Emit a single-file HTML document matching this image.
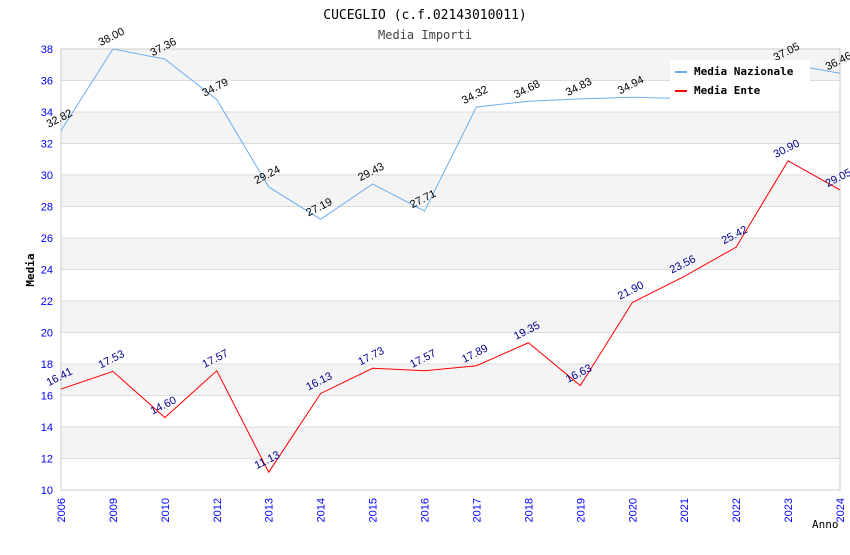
<!DOCTYPE html>
<html><head><meta charset="utf-8"><style>
body{margin:0;background:#fff}
svg text{font-family:"Liberation Sans",sans-serif}
.mono{font-family:"DejaVu Sans Mono","Liberation Mono",monospace}
</style></head><body>
<svg id="c" width="850" height="550">
<text class="mono" x="425" y="19" text-anchor="middle" font-size="13">CUCEGLIO (c.f.02143010011)</text>
<text class="mono" x="425" y="39" text-anchor="middle" font-size="12" fill="#444">Media Importi</text>
<g id="grid"></g><g id="axes"></g><g id="series"></g>
<g>
<rect x="670" y="60" width="140" height="40" fill="#fff"/>
<line x1="675" y1="72" x2="687" y2="72" stroke="#6aaef0" stroke-width="2"/>
<text class="mono" x="694" y="75" font-size="11" font-weight="bold">Media Nazionale</text>
<line x1="675" y1="91" x2="687" y2="91" stroke="#f00" stroke-width="2"/>
<text class="mono" x="694" y="94" font-size="11" font-weight="bold">Media Ente</text>
</g>
<text class="mono" x="34" y="270" font-size="11" font-weight="bold" transform="rotate(-90 34 270)" text-anchor="middle">Media</text>
<text class="mono" x="812" y="528" font-size="11">Anno</text>
</svg>
<script>
const categories=["2006","2009","2010","2012","2013","2014","2015","2016","2017","2018","2019","2020","2021","2022","2023","2024"];
const nazionale=[32.82,38.00,37.36,34.79,29.24,27.19,29.43,27.71,34.32,34.68,34.83,34.94,34.85,35.9,37.05,36.46];
const nazLabels=["32.82","38.00","37.36","34.79","29.24","27.19","29.43","27.71","34.32","34.68","34.83","34.94","","","37.05","36.46"];
const ente=[16.41,17.53,14.60,17.57,11.13,16.13,17.73,17.57,17.89,19.35,16.63,21.90,23.56,25.42,30.90,29.05];
const yTicks=[10,12,14,16,18,20,22,24,26,28,30,32,34,36,38];
const X0=61,X1=840,Y0=490,Y1=49,YMIN=10,YMAX=38;
const NS="http://www.w3.org/2000/svg";
function x(i){return X0+(X1-X0)*i/(categories.length-1);}
function y(v){return Y0-(v-YMIN)/(YMAX-YMIN)*(Y0-Y1);}
function mk(t,a,p){const e=document.createElementNS(NS,t);for(const k in a)e.setAttribute(k,a[k]);p.appendChild(e);return e;}
const grid=document.getElementById('grid'),axes=document.getElementById('axes'),ser=document.getElementById('series');
for(let i=0;i<yTicks.length-1;i++){
 const a=yTicks[i],b=yTicks[i+1];
 const r=mk('rect',{x:X0,y:y(b),width:X1-X0,height:y(a)-y(b),fill:(a%4===0)?'#f4f4f4':'#fff'},grid);
 
 
}
yTicks.forEach(v=>{
 mk('line',{x1:X0,x2:X1,y1:y(v),y2:y(v),stroke:'#ddd'},grid);
 const t=mk('text',{x:X0-8,y:y(v)+4,'text-anchor':'end','font-size':11,fill:'#00f'},axes);
 t.textContent=v;
 
 
});
mk('rect',{x:X0,y:Y1,width:X1-X0,height:Y0-Y1,fill:'none',stroke:'#ccc'},grid);
categories.forEach((c,i)=>{
 const t=mk('text',{x:x(i)+4,y:Y0+8,'text-anchor':'end','font-size':11,fill:'#00f',transform:`rotate(-90 ${x(i)+4} ${Y0+8})`},axes);
 t.textContent=c;
 
 
});
function series(vals,labels,color,lc,name){
 const p=mk('polyline',{points:vals.map((v,i)=>x(i)+','+y(v)).join(' '),fill:'none',stroke:color,'stroke-width':1},ser);
 
 
 vals.forEach((v,i)=>{
  const lab=labels?labels[i]:v.toFixed(2); if(!lab)return;
  const tx=x(i),ty=y(v)-9;
  const t=mk('text',{x:tx,y:ty,'text-anchor':'middle','font-size':11,fill:lc,transform:`rotate(-27 ${tx} ${ty})`},ser);
  t.textContent=lab;
  
  
 });
}
series(nazionale,nazLabels,'#6aaef0','#000','nazionale');
series(ente,null,'#f00','#00008b','ente');
</script>
</body></html>
